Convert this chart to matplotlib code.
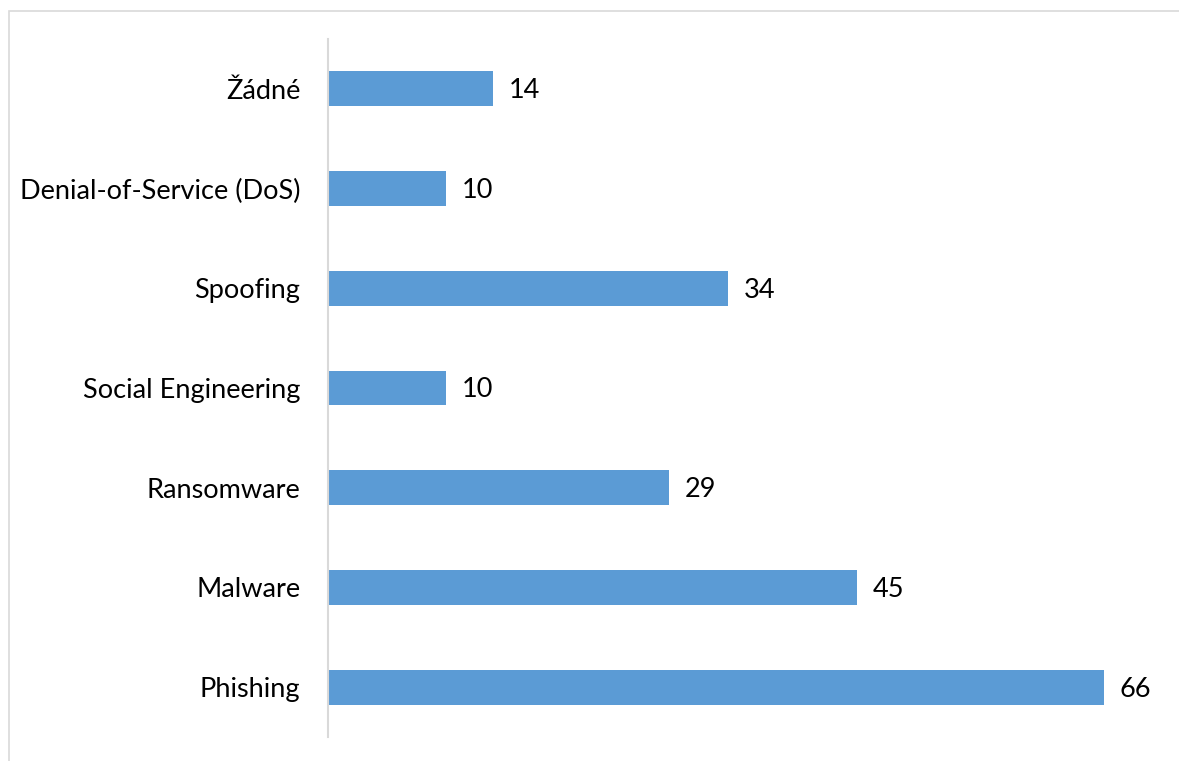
import matplotlib.pyplot as plt
from matplotlib.patches import Rectangle

categories = ['Phishing', 'Malware', 'Ransomware', 'Social Engineering',
              'Spoofing', 'Denial-of-Service (DoS)', 'Žádné']
counts = [66, 45, 29, 10, 34, 10, 14]

plt.rcParams['font.family'] = ['Lato', 'DejaVu Sans']

fig = plt.figure(figsize=(11.79, 7.61), dpi=100)
ax = fig.add_axes([328 / 1179, 1 - 737 / 761, 823 / 1179, 698 / 761])

# light frame around the chart area
fig.patches.append(Rectangle((8.5 / 1179, -0.1), 1.2, 1 - 10.5 / 761 + 0.1,
                             transform=fig.transFigure, fill=False,
                             edgecolor='#d9d9d9', linewidth=1.2))

pos = list(range(len(categories)))
bars = ax.barh(pos, counts, height=0.35, color='#5b9bd5')
for b, v in zip(bars, counts):
    ax.text(b.get_width() + 1.35, b.get_y() + b.get_height() / 2 - 0.02, str(v),
            va='center', ha='left', fontsize=19.5)

ax.set_xlim(0, 70)
ax.set_ylim(-0.5, len(categories) - 0.5)
ax.set_yticks(pos)
ax.set_yticklabels(categories, fontsize=19.5)
ax.tick_params(axis='y', length=0, pad=20)
ax.set_xticks([])
for s in ['top', 'right', 'bottom']:
    ax.spines[s].set_visible(False)
ax.spines['left'].set_color('#d9d9d9')
ax.spines['left'].set_linewidth(1.5)

fig.savefig('out.png', dpi=100)
